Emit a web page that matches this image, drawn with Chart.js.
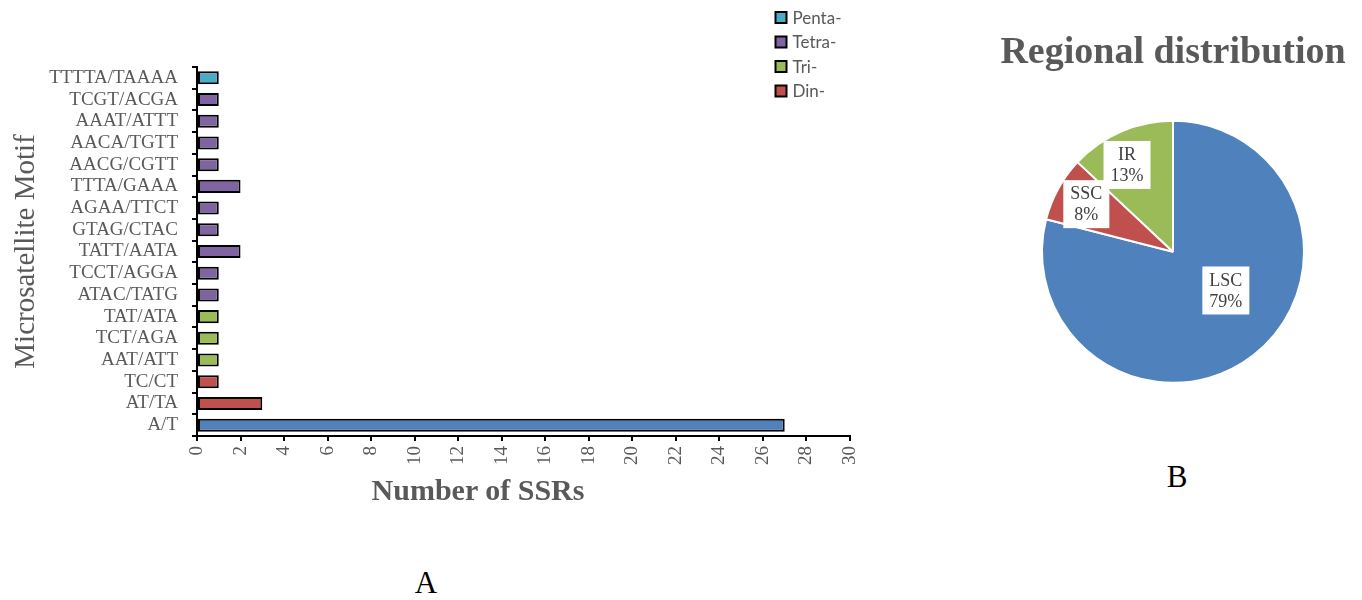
<!DOCTYPE html>
<html>
<head>
<meta charset="utf-8">
<title>SSR motifs and regional distribution</title>
<script src="https://cdn.jsdelivr.net/npm/chart.js@4.4.1/dist/chart.umd.min.js"></script>
<style>
  html, body { margin: 0; padding: 0; background: #ffffff; }
  body { width: 1362px; height: 600px; position: relative; overflow: hidden; font-family: "Liberation Serif", "Times New Roman", serif; }
  #bar { position: absolute; left: 0; top: 0; }
  #pie { position: absolute; left: 984px; top: 0; }
  .axis-title { position: absolute; left: 278px; top: 475px; width: 400px; text-align: center;
                font: bold 30px/30px "Liberation Serif", serif; color: #595959; }
  .panel { position: absolute; width: 100px; text-align: center; font: 31px/31px "Liberation Serif", serif; color: #000; }
</style>
</head>
<body>
<canvas id="bar" width="900" height="480"></canvas>
<canvas id="pie" width="378" height="418"></canvas>
<div class="axis-title">Number of SSRs</div>
<div class="panel" style="left:376px; top:567px;">A</div>
<div class="panel" style="left:1127px; top:461px;">B</div>

<script>
// ---- SSR motifs (top to bottom) ----
const motifs = [
  'TTTTA/TAAAA', 'TCGT/ACGA', 'AAAT/ATTT', 'AACA/TGTT', 'AACG/CGTT',
  'TTTA/GAAA', 'AGAA/TTCT', 'GTAG/CTAC', 'TATT/AATA', 'TCCT/AGGA',
  'ATAC/TATG', 'TAT/ATA', 'TCT/AGA', 'AAT/ATT', 'TC/CT', 'AT/TA', 'A/T'
];
const ssrCounts = [1, 1, 1, 1, 1, 2, 1, 1, 2, 1, 1, 1, 1, 1, 1, 3, 27];
const motifTypes = [
  'Penta', 'Tetra', 'Tetra', 'Tetra', 'Tetra',
  'Tetra', 'Tetra', 'Tetra', 'Tetra', 'Tetra',
  'Tetra', 'Tri', 'Tri', 'Tri', 'Din', 'Din', 'Mono'
];
const xTickMin = 0, xTickMax = 30, xTickStep = 2;

// legend entries for the motif types
const legendTypes = ['Penta', 'Tetra', 'Tri', 'Din'];
const legendNames = ['Penta-', 'Tetra-', 'Tri-', 'Din-'];

// ---- regional distribution ----
const regions = ['LSC', 'SSC', 'IR'];
const regionShares = [79, 8, 13];

// palette
const typeColors = { Mono: '#4F81BD', Din: '#C0504D', Tri: '#9BBB59', Tetra: '#8064A2', Penta: '#4BACC6' };
const regionColors = ['#4F81BD', '#C0504D', '#9BBB59'];
const GREY = '#595959';
const SERIF = '"Liberation Serif", "Times New Roman", serif';

// legend drawn in the upper part of the bar canvas
const typeLegend = {
  id: 'typeLegend',
  afterDraw(chart, args, opts) {
    const ctx = chart.ctx;
    ctx.save();
    ctx.font = opts.font;
    ctx.textBaseline = 'middle';
    ctx.textAlign = 'left';
    opts.items.forEach((it, i) => {
      const cy = opts.y + i * opts.gap;
      ctx.fillStyle = it.color;
      ctx.fillRect(opts.x, cy - opts.box / 2, opts.box, opts.box);
      ctx.lineWidth = 2;
      ctx.strokeStyle = '#000';
      ctx.strokeRect(opts.x, cy - opts.box / 2, opts.box, opts.box);
      ctx.fillStyle = opts.color;
      ctx.fillText(it.text, opts.x + opts.box + 6, cy + 1);
    });
    ctx.restore();
  }
};

new Chart(document.getElementById('bar'), {
  type: 'bar',
  data: {
    labels: motifs,
    datasets: [{
      data: ssrCounts,
      backgroundColor: motifTypes.map(t => typeColors[t]),
      borderColor: '#000',
      borderWidth: 2,
      borderSkipped: false,
      barPercentage: 0.6,
      categoryPercentage: 1
    }]
  },
  options: {
    indexAxis: 'y',
    responsive: false,
    animation: false,
    layout: { padding: { top: 67, right: 50, left: 0, bottom: 0 } },
    plugins: {
      legend: { display: false },
      tooltip: { enabled: false },
      typeLegend: {
        x: 775.5, y: 17.5, gap: 24.5, box: 11,
        font: '17px Lato, "Liberation Sans", sans-serif', color: GREY,
        items: legendTypes.map((t, i) => ({ text: legendNames[i], color: typeColors[t] }))
      }
    },
    scales: {
      x: {
        min: xTickMin, max: xTickMax,
        ticks: {
          stepSize: xTickStep, color: GREY, padding: 5,
          minRotation: 90, maxRotation: 90, autoSkip: false,
          font: { family: SERIF, size: 19 }
        },
        grid: { drawOnChartArea: false, drawTicks: true, tickLength: 5, color: '#000', lineWidth: 2 },
        border: { color: '#000', width: 2 },
        afterFit(scale) { scale.height = 44; }
      },
      y: {
        ticks: { color: GREY, padding: 14, autoSkip: false, font: { family: SERIF, size: 19 } },
        grid: { drawOnChartArea: false, drawTicks: true, tickLength: 5, color: '#000', lineWidth: 2 },
        border: { color: '#000', width: 2 },
        title: {
          display: true, text: 'Microsatellite Motif', color: GREY,
          font: { family: SERIF, size: 29, lineHeight: 1.2 },
          padding: { top: 9, bottom: 0 }
        },
        afterFit(scale) { scale.width = 197; }
      }
    }
  },
  plugins: [typeLegend]
});

// boxed region labels inside the slices
const sliceLabels = {
  id: 'sliceLabels',
  afterDatasetsDraw(chart, args, opts) {
    const ctx = chart.ctx;
    const meta = chart.getDatasetMeta(0);
    const values = chart.data.datasets[0].data;
    const total = values.reduce((a, b) => a + b, 0);
    ctx.save();
    ctx.font = opts.font;
    ctx.textAlign = 'center';
    ctx.textBaseline = 'middle';
    meta.data.forEach((arc, i) => {
      const p = arc.getProps(['x', 'y', 'startAngle', 'endAngle', 'outerRadius'], true);
      const place = opts.placement[i];
      const a = (p.startAngle + p.endAngle) / 2 + place.turn * Math.PI / 180;
      const cx = p.x + Math.cos(a) * p.outerRadius * place.r;
      const cy = p.y + Math.sin(a) * p.outerRadius * place.r;
      const lines = [chart.data.labels[i], Math.round(values[i] / total * 100) + '%'];
      const w = Math.max(...lines.map(l => ctx.measureText(l).width)) + 2 * opts.padX;
      const h = lines.length * opts.lineHeight + 2 * opts.padY;
      ctx.fillStyle = '#fff';
      ctx.fillRect(cx - w / 2, cy - h / 2, w, h);
      ctx.fillStyle = opts.color;
      lines.forEach((l, k) => ctx.fillText(l, cx, cy - h / 2 + opts.padY + opts.lineHeight * (k + 0.5) + 1));
    });
    ctx.restore();
  }
};

new Chart(document.getElementById('pie'), {
  type: 'pie',
  data: {
    labels: regions,
    datasets: [{
      data: regionShares,
      backgroundColor: regionColors,
      borderColor: '#fff',
      borderWidth: 2,
      hoverOffset: 0,
      radius: 131
    }]
  },
  options: {
    responsive: false,
    animation: false,
    plugins: {
      legend: { display: false },
      tooltip: { enabled: false },
      title: {
        display: true, text: 'Regional distribution', color: GREY,
        font: { family: SERIF, size: 38, weight: 'bold', lineHeight: 1.2 },
        padding: { top: 30, bottom: 10 }
      },
      sliceLabels: {
        font: '18px ' + SERIF, color: '#404040',
        padX: 7, padY: 3, lineHeight: 21,
        placement: [{ r: 0.5, turn: -16 }, { r: 0.755, turn: 0 }, { r: 0.75, turn: -4.5 }]
      }
    }
  },
  plugins: [sliceLabels]
});
</script>
</body>
</html>
